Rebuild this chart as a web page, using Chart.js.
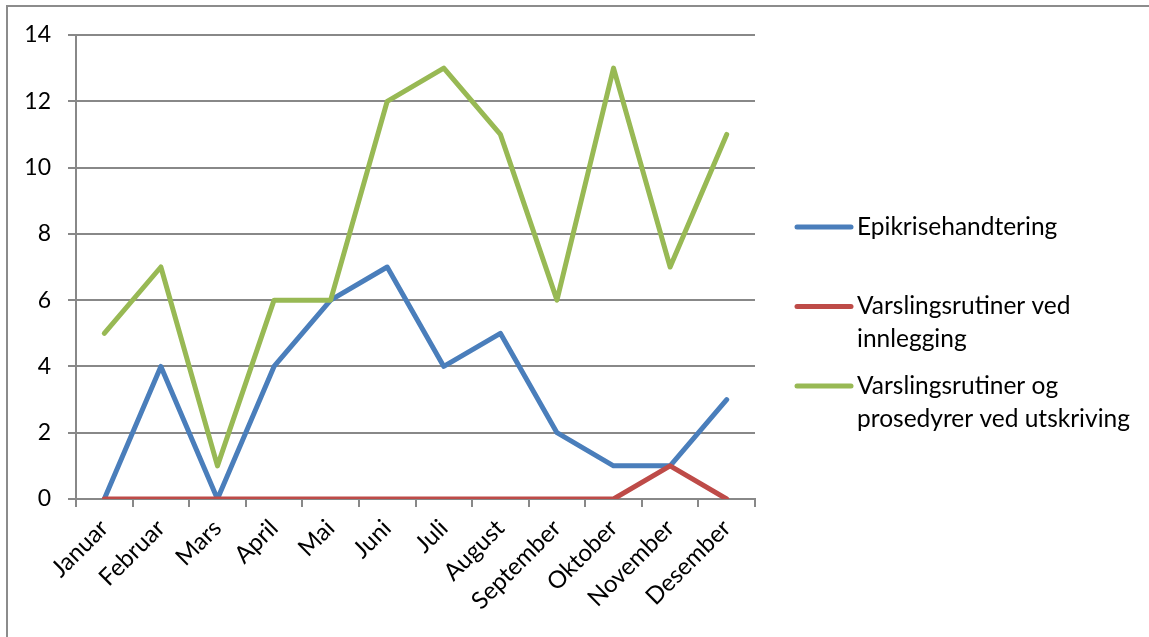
<!DOCTYPE html>
<html>
<head>
<meta charset="utf-8">
<script src="https://cdn.jsdelivr.net/npm/chart.js@4.4.1/dist/chart.umd.min.js"></script>
<style>
  html, body { margin: 0; padding: 0; background: #fff; }
  #wrap { width: 1149px; height: 637px; position: relative; }
</style>
</head>
<body>
<div id="wrap"><canvas id="c" width="1149" height="637"></canvas></div>
<script>
// Monthly counts per category
const months = ['Januar', 'Februar', 'Mars', 'April', 'Mai', 'Juni', 'Juli', 'August', 'September', 'Oktober', 'November', 'Desember'];
const epikrisehandtering = [0, 4, 0, 4, 6, 7, 4, 5, 2, 1, 1, 3];
const varslingInnlegging = [0, 0, 0, 0, 0, 0, 0, 0, 0, 0, 1, 0];
const varslingUtskriving = [5, 7, 1, 6, 6, 12, 13, 11, 6, 13, 7, 11];
const seriesNames = ['Epikrisehandtering', 'Varslingsrutiner ved innlegging', 'Varslingsrutiner og prosedyrer ved utskriving'];
// Legend text split into lines
const legendLines = [
  ['Epikrisehandtering'],
  ['Varslingsrutiner ved', 'innlegging'],
  ['Varslingsrutiner og', 'prosedyrer ved utskriving']
];
const yMax = 14;
const yStep = 2;

const colors = ['#4A7EBB', '#BE4B48', '#98B954'];
const FONT = 'Lato, "Open Sans", sans-serif';
const gridColor = '#888888';

const frame = {
  id: 'frame',
  afterDraw(chart) {
    const ctx = chart.ctx;
    ctx.save();
    ctx.strokeStyle = '#8c8c8c';
    ctx.lineWidth = 2;
    ctx.strokeRect(7, 6, 1300, 800);
    ctx.restore();
  }
};

const sideLegend = {
  id: 'sideLegend',
  afterDraw(chart) {
    const ctx = chart.ctx;
    const area = chart.chartArea;
    const x0 = area.right + 42;
    const x1 = x0 + 54;
    const tx = x1 + 6;
    const startY = 227;
    const step = 79.5;
    const lh = 33;
    ctx.save();
    ctx.font = '24.5px ' + FONT;
    ctx.textBaseline = 'middle';
    ctx.fillStyle = '#000';
    legendLines.forEach((lines, i) => {
      const y = startY + i * step;
      ctx.strokeStyle = colors[i];
      ctx.lineWidth = 5;
      ctx.lineCap = 'round';
      ctx.beginPath();
      ctx.moveTo(x0, y);
      ctx.lineTo(x1, y);
      ctx.stroke();
      lines.forEach((t, j) => ctx.fillText(t, tx, y + j * lh));
    });
    ctx.restore();
  }
};

const seriesData = [epikrisehandtering, varslingInnlegging, varslingUtskriving];

new Chart(document.getElementById('c'), {
  type: 'line',
  data: {
    labels: months,
    datasets: seriesData.map((d, i) => ({
      label: seriesNames[i],
      data: d,
      borderColor: colors[i],
      backgroundColor: colors[i],
      borderWidth: 5,
      pointRadius: 0,
      pointHoverRadius: 0,
      tension: 0,
      borderJoinStyle: 'round',
      borderCapStyle: 'round',
      fill: false,
      order: 3 - i
    }))
  },
  options: {
    responsive: false,
    animation: false,
    events: [],
    layout: { padding: { left: 0, right: 394, top: 35, bottom: 0 } },
    plugins: {
      legend: { display: false },
      tooltip: { enabled: false },
      title: { display: false }
    },
    scales: {
      x: {
        offset: true,
        grid: {
          offset: true,
          drawOnChartArea: false,
          drawTicks: true,
          tickLength: 8,
          color: gridColor,
          lineWidth: 2
        },
        border: { color: gridColor, width: 2 },
        ticks: {
          minRotation: 45,
          maxRotation: 45,
          autoSkip: false,
          color: '#000',
          padding: 7,
          font: { family: FONT, size: 24 }
        },
        afterFit(s) { s.height = 138; }
      },
      y: {
        min: 0,
        max: yMax,
        grid: {
          color: gridColor,
          lineWidth: 2,
          drawTicks: true,
          tickLength: 8
        },
        border: { color: gridColor, width: 2 },
        ticks: {
          stepSize: yStep,
          color: '#000',
          padding: 17,
          font: { family: FONT, size: 23 }
        },
        afterFit(s) { s.width = 76; }
      }
    }
  },
  plugins: [frame, sideLegend]
});
</script>
</body>
</html>
